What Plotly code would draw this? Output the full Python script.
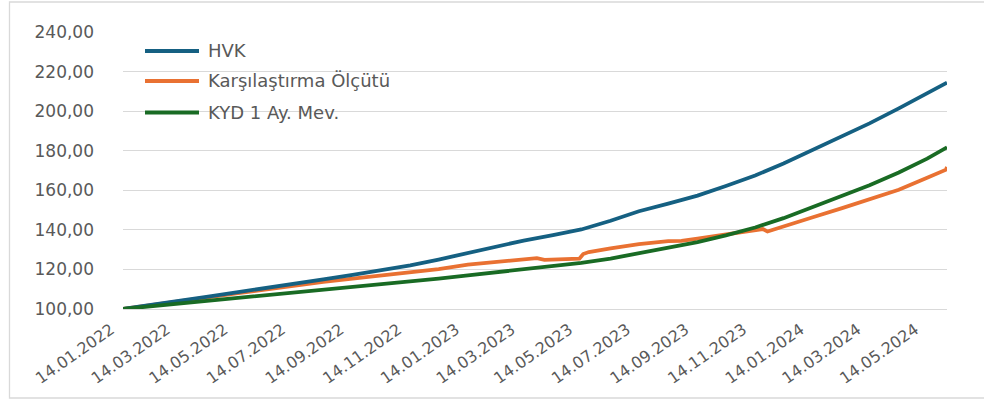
import plotly.graph_objects as go

# ---- data ----
dates = [
    "2022-01-14", "2022-02-14", "2022-03-14", "2022-04-14", "2022-05-14", "2022-06-14",
    "2022-07-14", "2022-08-14", "2022-09-14", "2022-10-14", "2022-11-14", "2022-12-14",
    "2023-01-14", "2023-02-14", "2023-03-14", "2023-04-14", "2023-05-14", "2023-06-14",
    "2023-07-14", "2023-08-14", "2023-09-14", "2023-10-14", "2023-11-14", "2023-12-14",
    "2024-01-14", "2024-02-14", "2024-03-14", "2024-04-14", "2024-05-14", "2024-06-04",
]
hvk = [
    100.0, 102.0, 104.1, 106.2, 108.4, 110.5,
    112.8, 115.0, 117.3, 119.7, 122.1, 125.0,
    128.3, 131.6, 134.6, 137.3, 140.2, 144.6,
    149.4, 153.3, 157.3, 162.2, 167.5, 173.5,
    180.5, 187.0, 193.8, 201.4, 209.3, 214.4,
]
kyd = [
    100.0, 101.4, 102.8, 104.2, 105.6, 107.0,
    108.4, 109.8, 111.2, 112.5, 113.9, 115.4,
    117.0, 118.7, 120.3, 122.0, 123.3, 125.5,
    128.2, 131.1, 133.8, 137.2, 141.2, 145.9,
    151.5, 156.8, 162.5, 169.0, 176.0, 181.7,
]
bench_dates = [
    "2022-01-14", "2022-02-14", "2022-03-14", "2022-04-14", "2022-05-14", "2022-06-14",
    "2022-07-14", "2022-08-14", "2022-09-14", "2022-10-14", "2022-11-14", "2022-12-14",
    "2023-01-14", "2023-02-14", "2023-03-14", "2023-03-28", "2023-04-05", "2023-04-14",
    "2023-04-25", "2023-05-12", "2023-05-16", "2023-05-22", "2023-06-14", "2023-07-14",
    "2023-08-14", "2023-08-28", "2023-09-14", "2023-10-14", "2023-11-14", "2023-11-22",
    "2023-11-27", "2023-12-14", "2024-01-14", "2024-02-14", "2024-03-14", "2024-04-14",
    "2024-05-14", "2024-06-03", "2024-06-04",
]
bench = [
    100.0, 101.9, 103.9, 105.9, 107.9, 109.9,
    111.8, 113.7, 115.3, 116.8, 118.3, 120.2,
    122.4, 124.0, 125.0, 125.7, 124.8, 125.0,
    125.3, 125.4, 127.8, 128.8, 130.6, 132.8,
    134.3, 134.4, 135.6, 137.6, 139.5, 140.4,
    139.2, 141.6, 146.4, 151.0, 155.5, 160.3,
    166.3, 170.4, 171.8,
]

series_names = ["HVK", "Karşılaştırma Ölçütü", "KYD 1 Ay. Mev."]
series_colors = ["#156082", "#E97132", "#196B24"]

tick_dates = [
    "2022-01-14", "2022-03-14", "2022-05-14", "2022-07-14", "2022-09-14", "2022-11-14",
    "2023-01-14", "2023-03-14", "2023-05-14", "2023-07-14", "2023-09-14", "2023-11-14",
    "2024-01-14", "2024-03-14", "2024-05-14",
]
tick_labels = [
    "14.01.2022", "14.03.2022", "14.05.2022", "14.07.2022", "14.09.2022", "14.11.2022",
    "14.01.2023", "14.03.2023", "14.05.2023", "14.07.2023", "14.09.2023", "14.11.2023",
    "14.01.2024", "14.03.2024", "14.05.2024",
]

# ---- figure ----
W, H = 984, 407
L, R, T, B = 123, 37, 32, 98
PW, PH = W - L - R, H - T - B

def px_x(x):
    return (x - L) / PW

def px_y(y):
    return (H - B - y) / PH

TEXT = "#595959"
FONT = "DejaVu Sans"

fig = go.Figure()
xs_list = [dates, bench_dates, dates]
ys_list = [hvk, bench, kyd]
for name, color, xs, ys in zip(series_names, series_colors, xs_list, ys_list):
    fig.add_trace(go.Scatter(x=xs, y=ys, name=name, mode="lines",
                             line=dict(color=color, width=3.8), showlegend=False))
# draw order: green on top like the reference
fig.data = (fig.data[1], fig.data[0], fig.data[2])

shapes = [
    dict(type="rect", xref="paper", yref="paper",
         x0=px_x(9.5), x1=px_x(995), y0=px_y(398), y1=px_y(2),
         line=dict(color="#D9D9D9", width=1.3), fillcolor="rgba(0,0,0,0)", layer="below"),
]
annotations = []
legend_y = [51, 81, 112.5]
for name, color, ly in zip(series_names, series_colors, legend_y):
    shapes.append(dict(type="line", xref="paper", yref="paper",
                       x0=px_x(145), x1=px_x(199), y0=px_y(ly), y1=px_y(ly),
                       line=dict(color=color, width=4)))
    annotations.append(dict(xref="paper", yref="paper", x=px_x(206), y=px_y(ly),
                            text=name, showarrow=False, xanchor="left", yanchor="middle",
                            font=dict(family=FONT, size=18, color=TEXT)))

fig.update_layout(
    width=W, height=H,
    margin=dict(l=L, r=R, t=T, b=B, pad=0),
    paper_bgcolor="white", plot_bgcolor="white",
    separators=",.",
    shapes=shapes, annotations=annotations,
    font=dict(family=FONT, color=TEXT),
    xaxis=dict(
        type="date", range=[dates[0], dates[-1]],
        tickmode="array", tickvals=tick_dates, ticktext=tick_labels,
        tickangle=-35, tickfont=dict(family=FONT, size=16, color=TEXT),
        showgrid=False, zeroline=False, showline=True, linecolor="#D9D9D9", linewidth=1.3,
        ticks="", ticklabelstandoff=4, ticklabelshift=-12,
    ),
    yaxis=dict(
        range=[100, 240], dtick=20, tick0=100, tickformat=".2f",
        tickfont=dict(family=FONT, size=17, color=TEXT),
        showgrid=True, gridcolor="#D9D9D9", gridwidth=1.3,
        zeroline=False, showline=False, ticks="", ticklabelstandoff=28,
    ),
)

fig.write_html("out.html", config={"displayModeBar": False},
               post_script="document.body.style.margin='0';document.body.style.overflow='hidden';")
